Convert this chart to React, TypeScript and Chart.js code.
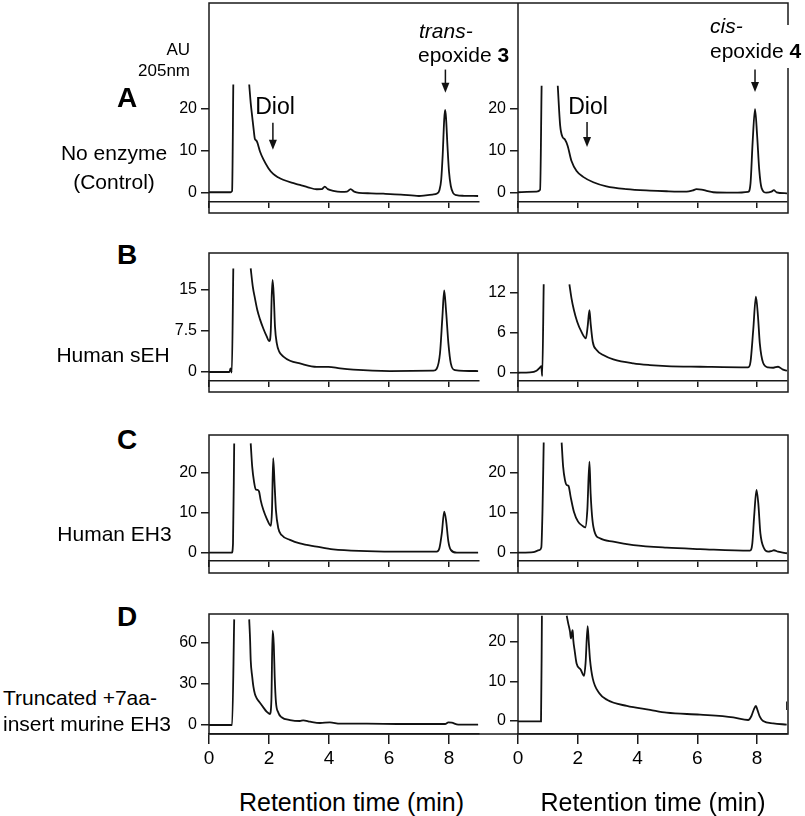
import React, { useEffect, useRef } from "react";
import { Chart, registerables } from "chart.js";

Chart.register(...registerables);

const FONT = "'Liberation Sans', Arial, Helvetica, sans-serif";

// ---- axis ticks ----
const X_TICKS = [0, 2, 4, 6, 8];
const Y_TICKS_A = [0, 10, 20];
const Y_TICKS_B_LEFT = [0, 7.5, 15];
const Y_TICKS_B_RIGHT = [0, 6, 12];
const Y_TICKS_C = [0, 10, 20];
const Y_TICKS_D_LEFT = [0, 30, 60];
const Y_TICKS_D_RIGHT = [0, 10, 20];

// ---- traces: retention time (min) / absorbance (AU, 205 nm) ----
// A: no enzyme, trans-epoxide 3
const A_TRANS_T = [0, 0.72, 0.77, 0.81, 1.0, 1.34, 1.39, 1.44, 1.49, 1.53,
  1.57, 1.61, 1.7, 1.81, 1.98, 2.14, 2.3, 2.47, 2.75, 3.03,
  3.3, 3.59, 3.76, 3.86, 3.96, 4.14, 4.4, 4.6, 4.72, 4.84,
  5.0, 5.4, 5.81, 6.4, 7.0, 7.22, 7.45, 7.6, 7.68, 7.74,
  7.79, 7.84, 7.87, 7.9, 7.95, 8.0, 8.06, 8.14, 8.25, 8.5, 8.97];
const A_TRANS_V = [0, 0, 0.3, 25.9, null, 25.9, 21.5, 18.2, 15.0, 12.8,
  12.5, 12.0, 9.8, 7.95, 5.8, 4.4, 3.6, 3.0, 2.3, 1.76,
  1.2, 0.72, 0.75, 1.35, 0.75, 0.35, 0.1, 0.15, 0.75, 0.15,
  -0.15, -0.25, -0.35, -0.55, -0.9, -0.75, -0.55, -0.3, 0.5, 3.0,
  9.0, 17.5, 19.8, 18.0, 11.0, 5.0, 1.5, -0.2, -0.7, -0.85, -0.9];
// A: no enzyme, cis-epoxide 4
const A_CIS_T = [0, 0.62, 0.74, 0.79, 1.0, 1.33, 1.41, 1.49, 1.57, 1.66,
  1.79, 1.96, 2.18, 2.52, 2.96, 3.63, 4.41, 4.97, 5.64, 5.85,
  5.97, 6.14, 6.35, 6.53, 7.2, 7.7, 7.78, 7.85, 7.93, 8.0,
  8.07, 8.15, 8.31, 8.48, 8.56, 8.65, 9.0];
const A_CIS_V = [0, 0.15, 0.6, 25.6, null, 25.6, 16.1, 13.3, 12.7, 11.2,
  7.5, 5.1, 3.7, 2.4, 1.4, 0.75, 0.4, 0.25, 0.15, 0.45,
  0.75, 0.65, 0.25, 0, -0.1, 0.1, 2.2, 12.0, 20.0, 13.7,
  5.5, 1.0, -0.1, 0.15, 0.5, 0, -0.25];
// B: human sEH
const B_TRANS_T = [0, 0.68, 0.72, 0.76, 0.81, 1.0, 1.39, 1.46, 1.53, 1.61,
  1.7, 1.81, 1.92, 2.01, 2.06, 2.09, 2.12, 2.16, 2.2, 2.26,
  2.34, 2.48, 2.7, 3.03, 3.59, 3.98, 4.37, 4.81, 6.03, 7.48,
  7.59, 7.7, 7.78, 7.84, 7.9, 7.98, 8.06, 8.2, 8.97];
const B_TRANS_V = [0, 0, 0.65, -0.1, 18.8, null, 18.8, 15.5, 13.4, 11.25,
  9.55, 7.9, 6.5, 5.6, 7.6, 13.7, 16.7, 13.7, 8.2, 5.2,
  3.7, 2.8, 2.05, 1.55, 0.95, 0.95, 0.65, 0.42, 0.18, 0.24,
  0.6, 3.4, 10.0, 14.8, 11.25, 5.2, 1.57, 0.36, 0.18];
const B_CIS_T = [0, 0.4, 0.62, 0.74, 0.78, 0.81, 0.86, 1.2, 1.72, 1.79,
  1.87, 1.98, 2.12, 2.27, 2.33, 2.39, 2.43, 2.5, 2.63, 2.85,
  3.19, 3.86, 4.41, 4.97, 6.09, 7.7, 7.78, 7.87, 7.96, 8.03,
  8.09, 8.2, 8.37, 8.54, 8.7, 8.85, 9.0];
const B_CIS_V = [0, 0.05, 0.3, 0.8, 1.0, -0.5, 13.25, null, 13.25, 11.15,
  9.4, 7.65, 6.15, 5.15, 6.9, 9.4, 7.4, 4.65, 3.4, 2.65,
  2.0, 1.4, 1.15, 1.0, 0.9, 0.8, 1.65, 6.4, 11.4, 8.4,
  4.4, 1.5, 0.8, 0.75, 0.9, 0.5, 0.3];
// C: human EH3
const C_TRANS_T = [0, 0.76, 0.8, 0.84, 1.1, 1.39, 1.44, 1.5, 1.56, 1.61,
  1.67, 1.72, 1.81, 1.92, 2.06, 2.1, 2.14, 2.19, 2.23, 2.31,
  2.42, 2.7, 3.03, 3.59, 4.14, 5.26, 6.37, 7.59, 7.68, 7.76,
  7.84, 7.9, 7.98, 8.06, 8.26, 8.97];
const C_TRANS_V = [0, 0, 2.3, 27.3, null, 27.3, 21.5, 17.75, 15.8, 15.7,
  15.25, 13.2, 10.7, 8.6, 6.7, 10.7, 23.6, 16.5, 10.7, 6.1,
  4.4, 3.2, 2.3, 1.5, 0.8, 0.4, 0.25, 0.25, 1.1, 4.8,
  10.25, 8.2, 2.75, 0.7, 0, 0];
const C_CIS_T = [0, 0.51, 0.71, 0.78, 0.82, 0.86, 1.2, 1.46, 1.51, 1.57,
  1.63, 1.69, 1.76, 1.87, 2.01, 2.16, 2.25, 2.32, 2.39, 2.43,
  2.49, 2.58, 2.74, 3.19, 3.86, 4.97, 6.09, 7.76, 7.84, 7.9,
  7.98, 8.04, 8.11, 8.23, 8.37, 8.48, 8.56, 8.7, 9.0];
const C_CIS_V = [0, 0.15, 0.65, 1.3, 10.7, 27.5, null, 27.5, 21.5, 18.2,
  16.9, 16.7, 14.0, 10.25, 7.75, 6.7, 6.3, 10.7, 22.75, 14.8,
  8.2, 4.8, 3.6, 2.75, 1.9, 1.25, 0.9, 0.5, 2.3, 9.0,
  15.7, 12.3, 4.8, 1.1, 0.25, 0.4, 0.6, 0.25, -0.15];
// D: truncated +7aa-insert murine EH3
const D_TRANS_T = [0, 0.77, 0.84, 1.1, 1.34, 1.37, 1.39, 1.44, 1.48, 1.53,
  1.59, 1.68, 1.81, 1.92, 2.03, 2.08, 2.12, 2.16, 2.19, 2.23,
  2.31, 2.42, 2.7, 3.03, 3.14, 3.37, 3.7, 4.03, 4.37, 5.26,
  6.37, 7.87, 7.98, 8.09, 8.31, 8.97];
const D_TRANS_V = [0, 0, 76.7, null, 76.7, 61.7, 47.2, 35.1, 27.8, 22.5,
  19.4, 16.7, 12.8, 9.7, 8.0, 18.2, 68.5, 58.1, 35.1, 17.0,
  9.0, 5.6, 3.6, 2.9, 3.4, 2.4, 1.45, 1.9, 0.97, 0.97,
  0.73, 0.73, 1.9, 1.7, 0.24, 0.24];
const D_CIS_T = [0, 0.77, 0.8, 1.2, 1.63, 1.68, 1.74, 1.77, 1.81, 1.83,
  1.85, 1.9, 1.96, 2.1, 2.21, 2.26, 2.33, 2.37, 2.41, 2.5,
  2.72, 2.99, 3.64, 4.42, 4.97, 6.09, 7.2, 7.7, 7.81, 7.89,
  7.96, 8.01, 8.09, 8.2, 8.54, 8.99, 9.0, 9.0, 9.0];
const D_CIS_V = [-0.1, -0.1, 26.5, null, 26.5, 24.6, 22.5, 20.8, 22.5, 22.9,
  20.4, 17.5, 14.5, 12.9, 11.35, 14.5, 23.9, 19.6, 15.4, 10.75,
  7.0, 5.3, 3.8, 2.8, 2.1, 1.6, 0.92, 0.25, 1.26, 2.9,
  3.8, 2.8, 1.1, 0, -0.6, -0.9, null, 4.9, 2.8];

// ---- layout (pixels) ----
const Y_AXIS_W = 50;
const PAD_T = 6;
const LEFT_PLOT_X = 209;
const LEFT_PLOT_W = 270;
const RIGHT_PLOT_X = 518;
const RIGHT_PLOT_W = 269;
const FRAME_W = 579;
const FRAME_DIV = 309;
const LEFT_CANVAS_W = 640;
const RIGHT_CANVAS_W = 327;

type Arrow = { t: number; from: number; to: number };
type PanelProps = {
  left: number; plotTop: number; plotH: number; xH: number; xTickLen: number;
  plotW: number; canvasW: number; showXLabels: boolean;
  yMin: number; yMax: number; yTicks: number[];
  t: number[]; v: (number | null)[];
  arrows?: Arrow[];
  frameExtra?: number;
};

function Panel(p: PanelProps) {
  const ref = useRef<HTMLCanvasElement>(null);
  const height = PAD_T + p.plotH + p.xH;
  useEffect(() => {
    const canvas = ref.current;
    if (!canvas) return;
    const framePlugin = {
      id: "frameBox",
      afterDraw(chart: any) {
        if (p.frameExtra === undefined) return;
        const { ctx, chartArea: a } = chart;
        const L = a.left, T = a.top, R = a.left + FRAME_W, B = a.bottom + p.frameExtra;
        const D = a.left + FRAME_DIV;
        ctx.save();
        ctx.strokeStyle = "#1a1a1a";
        ctx.lineWidth = 1.5;
        ctx.beginPath();
        ctx.rect(L, T, R - L, B - T);
        ctx.moveTo(D, T);
        ctx.lineTo(D, B);
        ctx.stroke();
        ctx.restore();
      },
    };
    const arrowPlugin = {
      id: "peakArrows",
      afterDatasetsDraw(chart: any) {
        if (!p.arrows) return;
        const { ctx, scales } = chart;
        ctx.save();
        ctx.strokeStyle = "#111";
        ctx.fillStyle = "#111";
        ctx.lineWidth = 1.5;
        for (const a of p.arrows) {
          const x = scales.x.getPixelForValue(a.t);
          const y1 = scales.y.getPixelForValue(a.from);
          const y2 = scales.y.getPixelForValue(a.to);
          ctx.beginPath();
          ctx.moveTo(x, y1);
          ctx.lineTo(x, y2 - 8);
          ctx.stroke();
          ctx.beginPath();
          ctx.moveTo(x - 4, y2 - 10);
          ctx.lineTo(x + 4, y2 - 10);
          ctx.lineTo(x, y2);
          ctx.closePath();
          ctx.fill();
        }
        ctx.restore();
      },
    };
    const chart = new Chart(canvas, {
      type: "line",
      data: {
        datasets: [
          {
            data: p.t.map((x, i) => ({ x, y: p.v[i] })) as any,
            borderColor: "#111",
            borderWidth: 1.8,
            pointRadius: 0,
            fill: false,
            spanGaps: false,
            cubicInterpolationMode: "monotone",
          },
        ],
      },
      options: {
        responsive: false,
        animation: false,
        devicePixelRatio: 1,
        layout: { padding: { top: PAD_T, right: p.canvasW - Y_AXIS_W - p.plotW, bottom: 0, left: 0 } },
        plugins: { legend: { display: false }, tooltip: { enabled: false } },
        scales: {
          x: {
            type: "linear",
            min: 0,
            max: 9,
            afterBuildTicks: (s: any) => { s.ticks = X_TICKS.map((value) => ({ value })); },
            afterFit: (s: any) => { s.height = p.xH; s.paddingLeft = 0; s.paddingRight = 0; },
            ticks: {
              display: p.showXLabels,
              autoSkip: false,
              maxRotation: 0,
              padding: 3,
              color: "#000",
              font: { family: FONT, size: 19 },
              callback: (v: any) => String(v),
            },
            grid: { drawOnChartArea: false, drawTicks: true, tickLength: p.xTickLen, color: "#1a1a1a", lineWidth: 1.5 },
            border: { display: true, color: "#1a1a1a", width: 1.5 },
          },
          y: {
            type: "linear",
            min: p.yMin,
            max: p.yMax,
            afterBuildTicks: (s: any) => { s.ticks = p.yTicks.map((value) => ({ value })); },
            afterFit: (s: any) => { s.width = Y_AXIS_W; s.paddingTop = 0; s.paddingBottom = 0; },
            ticks: {
              padding: 4,
              color: "#000",
              font: { family: FONT, size: 16 },
              callback: (v: any) => String(v),
            },
            grid: { drawOnChartArea: false, drawTicks: true, tickLength: 8, color: "#1a1a1a", lineWidth: 1.5 },
            border: { display: false },
          },
        },
      },
      plugins: [framePlugin, arrowPlugin],
    } as any);
    return () => chart.destroy();
  }, []);
  return (
    <canvas
      ref={ref}
      width={p.canvasW}
      height={height}
      style={{ position: "absolute", left: p.left, top: p.plotTop - PAD_T, width: p.canvasW, height }}
    />
  );
}

type TxtProps = {
  x: number; y: number; size: number; align?: "left" | "center" | "right";
  bold?: boolean; italic?: boolean; children: React.ReactNode;
};
function Txt({ x, y, size, align = "center", bold, italic, children }: TxtProps) {
  const tx = align === "center" ? "translateX(-50%)" : align === "right" ? "translateX(-100%)" : "none";
  return (
    <div
      style={{
        position: "absolute", left: x, top: y, fontSize: size, lineHeight: 1,
        fontWeight: bold ? 700 : 400, fontStyle: italic ? "italic" : "normal",
        whiteSpace: "nowrap", transform: tx, color: "#000", fontFamily: FONT,
      }}
    >
      {children}
    </div>
  );
}

const ROWS = [
  { key: "A", plotTop: 3, plotH: 199, xH: 14, xTickLen: 6, labels: false, frameExtra: 11,
    left: { t: A_TRANS_T, v: A_TRANS_V, yMin: -2.34, yMax: 45.5, yTicks: Y_TICKS_A,
      arrows: [{ t: 2.13, from: 16.7, to: 10.2 }, { t: 7.88, from: 29.5, to: 23.9 }] },
    right: { t: A_CIS_T, v: A_CIS_V, yMin: -2.34, yMax: 45.5, yTicks: Y_TICKS_A,
      arrows: [{ t: 2.31, from: 16.9, to: 10.9 }, { t: 7.93, from: 29.5, to: 24.1 }] } },
  { key: "B", plotTop: 253, plotH: 128, xH: 14, xTickLen: 6, labels: false, frameExtra: 11,
    left: { t: B_TRANS_T, v: B_TRANS_V, yMin: -1.63, yMax: 21.6, yTicks: Y_TICKS_B_LEFT },
    right: { t: B_CIS_T, v: B_CIS_V, yMin: -1.24, yMax: 17.95, yTicks: Y_TICKS_B_RIGHT } },
  { key: "C", plotTop: 435, plotH: 126, xH: 15, xTickLen: 6, labels: false, frameExtra: 12,
    left: { t: C_TRANS_T, v: C_TRANS_V, yMin: -2.08, yMax: 29.4, yTicks: Y_TICKS_C },
    right: { t: C_CIS_T, v: C_CIS_V, yMin: -2.08, yMax: 29.4, yTicks: Y_TICKS_C } },
  { key: "D", plotTop: 614, plotH: 120, xH: 50, xTickLen: 10, labels: true, frameExtra: 0,
    left: { t: D_TRANS_T, v: D_TRANS_V, yMin: -6.54, yMax: 80.6, yTicks: Y_TICKS_D_LEFT },
    right: { t: D_CIS_T, v: D_CIS_V, yMin: -3.27, yMax: 26.95, yTicks: Y_TICKS_D_RIGHT } },
];

export default function App() {
  return (
    <div style={{ position: "absolute", left: 0, top: 0, width: 805, height: 816, background: "#fff", fontFamily: FONT, overflow: "hidden" }}>
      {ROWS.map((r) => (
        <React.Fragment key={r.key}>
          <Panel left={LEFT_PLOT_X - Y_AXIS_W} plotTop={r.plotTop} plotH={r.plotH} xH={r.xH} xTickLen={r.xTickLen}
            plotW={LEFT_PLOT_W} canvasW={LEFT_CANVAS_W} showXLabels={r.labels}
            yMin={r.left.yMin} yMax={r.left.yMax} yTicks={r.left.yTicks} t={r.left.t} v={r.left.v}
            arrows={(r.left as any).arrows} frameExtra={r.frameExtra} />
          <Panel left={RIGHT_PLOT_X - Y_AXIS_W} plotTop={r.plotTop} plotH={r.plotH} xH={r.xH} xTickLen={r.xTickLen}
            plotW={RIGHT_PLOT_W} canvasW={RIGHT_CANVAS_W} showXLabels={r.labels}
            yMin={r.right.yMin} yMax={r.right.yMax} yTicks={r.right.yTicks} t={r.right.t} v={r.right.v}
            arrows={(r.right as any).arrows} />
        </React.Fragment>
      ))}

      <Txt x={190} y={40.7} size={17} align="right">AU</Txt>
      <Txt x={190} y={61.7} size={17} align="right">205nm</Txt>

      <Txt x={127} y={84.3} size={28} bold>A</Txt>
      <Txt x={127} y={241.3} size={28} bold>B</Txt>
      <Txt x={127} y={426.3} size={28} bold>C</Txt>
      <Txt x={127} y={602.8} size={28} bold>D</Txt>

      <Txt x={114} y={142.2} size={21}>No enzyme</Txt>
      <Txt x={114} y={171.2} size={21}>(Control)</Txt>
      <Txt x={113} y={344.2} size={21}>Human sEH</Txt>
      <Txt x={114.5} y={523.2} size={21}>Human EH3</Txt>
      <Txt x={80} y={686.7} size={21}>Truncated +7aa-</Txt>
      <Txt x={87} y={713.2} size={21}>insert murine EH3</Txt>

      <Txt x={275} y={95.2} size={23}>Diol</Txt>
      <Txt x={588} y={95.2} size={23}>Diol</Txt>

      <Txt x={419} y={20.2} size={21} align="left" italic>trans-</Txt>
      <Txt x={418} y={44.2} size={21} align="left">epoxide <b>3</b></Txt>

      <div style={{ position: "absolute", left: 783, top: 25, width: 12, height: 43, background: "#fff" }} />
      <Txt x={710} y={15.2} size={21} align="left" italic>cis-</Txt>
      <Txt x={710} y={39.7} size={21} align="left">epoxide <b>4</b></Txt>

      <Txt x={351.5} y={789.8} size={25}>Retention time (min)</Txt>
      <Txt x={653} y={789.8} size={25}>Retention time (min)</Txt>
    </div>
  );
}
